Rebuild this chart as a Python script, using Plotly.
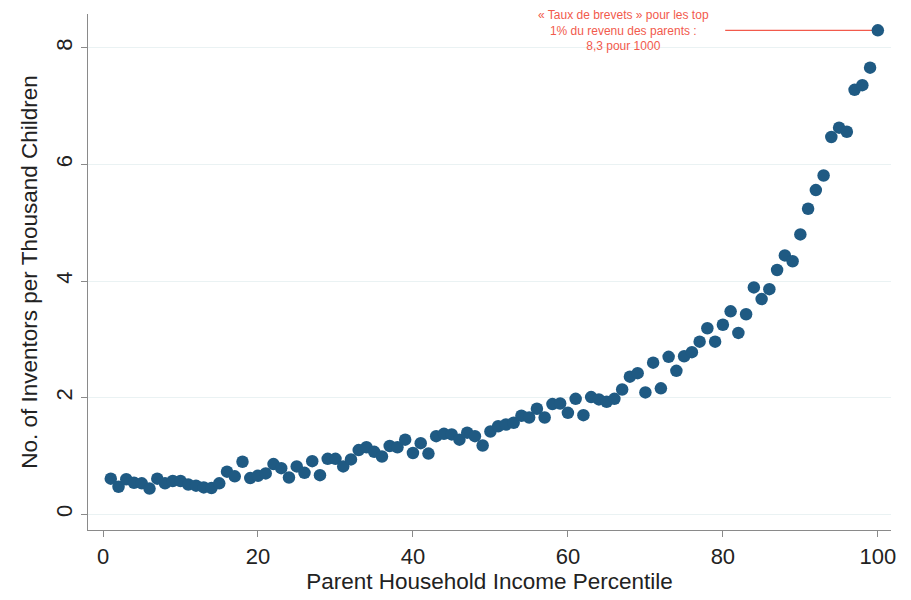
import plotly.graph_objects as go

# Parent income percentile (1..100) and inventors per 1000 children
percentile = list(range(1, 101))
inventors = [
    0.61, 0.47, 0.60, 0.54, 0.53, 0.44, 0.61, 0.53, 0.57, 0.57,
    0.51, 0.49, 0.46, 0.45, 0.53, 0.73, 0.65, 0.90, 0.62, 0.66,
    0.70, 0.86, 0.79, 0.63, 0.82, 0.71, 0.91, 0.67, 0.95, 0.95,
    0.82, 0.94, 1.10, 1.15, 1.07, 0.99, 1.17, 1.15, 1.28, 1.05,
    1.22, 1.04, 1.34, 1.38, 1.37, 1.28, 1.40, 1.34, 1.18, 1.42,
    1.51, 1.54, 1.57, 1.69, 1.66, 1.81, 1.66, 1.89, 1.90, 1.74,
    1.98, 1.70, 2.01, 1.97, 1.93, 1.98, 2.14, 2.36, 2.42, 2.09,
    2.60, 2.16, 2.70, 2.46, 2.71, 2.78, 2.96, 3.19, 2.96, 3.25,
    3.48, 3.11, 3.43, 3.89, 3.69, 3.86, 4.19, 4.44, 4.34, 4.80,
    5.24, 5.56, 5.81, 6.47, 6.63, 6.56, 7.28, 7.36, 7.66, 8.30,
]

x_ticks = [0, 20, 40, 60, 80, 100]
y_ticks = [0, 2, 4, 6, 8]

note_lines = ["« Taux de brevets » pour les top", "1% du revenu des parents :", "8,3 pour 1000"]
note_x, note_y = 67.2, 8.3
connector_start = 80.3

red = "#f25a4c"
navy = "#1f5a83"
axis_grey = "#8a8a8a"
font_family = "Liberation Sans, Arial"

fig = go.Figure()
fig.add_trace(go.Scatter(
    x=percentile, y=inventors, mode="markers",
    marker=dict(size=12.5, color=navy, line=dict(width=0)),
    hoverinfo="x+y", showlegend=False,
))

# red connector from the note to the top-percentile point
fig.add_shape(type="line", xref="x", yref="y",
              x0=connector_start, x1=percentile[-1], y0=inventors[-1], y1=inventors[-1],
              line=dict(color=red, width=1.3), layer="below")

fig.add_annotation(x=note_x, y=note_y, xref="x", yref="y",
                   text="<br>".join(note_lines), showarrow=False,
                   font=dict(family=font_family, size=12, color=red),
                   align="center", xanchor="center", yanchor="middle")

fig.update_layout(
    width=911, height=600,
    margin=dict(l=88, r=20, t=14, b=70),
    paper_bgcolor="white", plot_bgcolor="white",
    font=dict(family=font_family, color="#222222"),
    xaxis=dict(
        range=[-1.94, 101.7], tickvals=x_ticks, ticks="outside", ticklen=6,
        tickcolor=axis_grey, tickwidth=1, showline=True, linecolor=axis_grey, linewidth=1.3,
        showgrid=False, zeroline=False, tickfont=dict(size=22),
        title=dict(text="Parent Household Income Percentile", font=dict(size=22.5), standoff=4),
    ),
    yaxis=dict(
        range=[-0.27, 8.58], tickvals=y_ticks, ticks="outside", ticklen=6,
        tickcolor=axis_grey, tickwidth=1, showline=True, linecolor=axis_grey, linewidth=1.3,
        showgrid=True, gridcolor="#eaf2f3", gridwidth=1, zeroline=False,
        tickangle=-90, tickfont=dict(size=22),
        title=dict(text="No. of Inventors per Thousand Children", font=dict(size=22.5), standoff=8),
    ),
)

fig.write_html("out.html")
